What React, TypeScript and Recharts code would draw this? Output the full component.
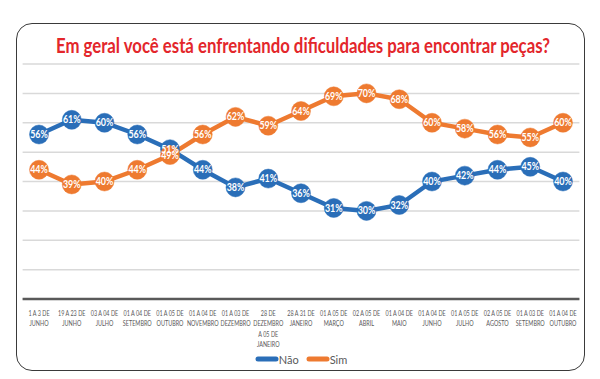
import { CartesianGrid, LabelList, Legend, Line, LineChart, XAxis, YAxis } from 'recharts';

const categories = [
  '1 A 3 DE\nJUNHO',
  '19 A 23 DE\nJUNHO',
  '03 A 04 DE\nJULHO',
  '01 A 04 DE\nSETEMBRO',
  '01 A 05 DE\nOUTUBRO',
  '01 A 04 DE\nNOVEMBRO',
  '01 A 03 DE\nDEZEMBRO',
  '28 DE\nDEZEMBRO\nA 05 DE\nJANEIRO',
  '28 A 31 DE\nJANEIRO',
  '01 A 05 DE\nMARÇO',
  '02 A 05 DE\nABRIL',
  '01 A 04 DE\nMAIO',
  '01 A 04 DE\nJUNHO',
  '01 A 05 DE\nJULHO',
  '02 A 05 DE\nAGOSTO',
  '01 A 03 DE\nSETEMBRO',
  '01 A 04 DE\nOUTUBRO',
];
const naoValues = [56, 61, 60, 56, 51, 44, 38, 41, 36, 31, 30, 32, 40, 42, 44, 45, 40];
const simValues = [44, 39, 40, 44, 49, 56, 62, 59, 64, 69, 70, 68, 60, 58, 56, 55, 60];
const yTicks = [0, 10, 20, 30, 40, 50, 60, 70, 80];

const BLUE = '#2A6EB8';
const ORANGE = '#EE7A30';
const FONT = 'Lato, "Open Sans", sans-serif';

const data = categories.map((c, i) => ({ periodo: c, nao: naoValues[i], sim: simValues[i] }));

function MultiTick({ x, y, payload }: any) {
  const lines = String(payload.value).split('\n');
  return (
    <g transform={`translate(${x},${y}) scale(0.78,1)`}>
      <text x={0} y={0} textAnchor="middle" fill="#595959" fontSize={7} fontFamily={FONT}>
        {lines.map((l, i) => (
          <tspan key={i} x={0} dy={i === 0 ? 9 : 10.3}>
            {l}
          </tspan>
        ))}
      </text>
    </g>
  );
}

function PctLabel({ x, y, width, height, value }: any) {
  const cx = x + (width || 0) / 2;
  const cy = y + (height || 0) / 2;
  return (
    <g transform={`translate(${cx},${cy}) scale(0.85,1)`}>
      <text x={0} y={0} dy={3.6} textAnchor="middle" fill="#fff" fontSize={10.5} fontWeight="bold" fontFamily={FONT}>
        {`${value}%`}
      </text>
    </g>
  );
}

function LegendBox() {
  const items = [
    { name: 'Não', color: BLUE },
    { name: 'Sim', color: ORANGE },
  ];
  return (
    <div style={{ display: 'flex', justifyContent: 'center', height: 20, alignItems: 'center', gap: 7 }}>
      {items.map((it) => (
        <div key={it.name} style={{ display: 'flex', alignItems: 'center' }}>
          <svg width={24} height={10}>
            <line x1={3} y1={5} x2={21} y2={5} stroke={it.color} strokeWidth={5} strokeLinecap="round" />
          </svg>
          <span style={{ fontFamily: FONT, fontSize: 11, color: '#595959' }}>{it.name}</span>
        </div>
      ))}
    </div>
  );
}

export default function App() {
  return (
    <div style={{ position: 'absolute', left: 0, top: 0, width: 600, height: 379, background: '#fff' }}>
      <div
        style={{
          position: 'absolute',
          left: 16,
          top: 23,
          width: 567,
          height: 346,
          border: '1.6px solid #3a3a3a',
          borderRadius: 16,
        }}
      />
      <svg style={{ position: 'absolute', left: 0, top: 0 }} width={600} height={70}>
        <text
          x={303}
          y={53}
          textAnchor="middle"
          textLength={494}
          lengthAdjust="spacingAndGlyphs"
          fontFamily={FONT}
          fontWeight="bold"
          fontSize={20}
          fill="#E3262B"
        >
          Em geral você está enfrentando dificuldades para encontrar peças?
        </text>
      </svg>
      <div style={{ position: 'absolute', left: 0, top: 0 }}>
        <LineChart width={600} height={379} data={data} margin={{ top: 64, right: 20.6, bottom: 10, left: 22.6 }}>
          <CartesianGrid vertical={false} stroke="#D9D9D9" strokeWidth={1.5} />
          <XAxis
            dataKey="periodo"
            interval={0}
            tickLine={false}
            axisLine={{ stroke: '#595959', strokeWidth: 2.5 }}
            padding={{ left: 16.4, right: 16.4 }}
            height={50}
            tick={<MultiTick />}
          />
          <YAxis hide domain={[0, 80]} ticks={yTicks} />
          <Legend verticalAlign="bottom" height={20} content={<LegendBox />} />
          <Line
            dataKey="nao"
            name="Não"
            stroke={BLUE}
            strokeWidth={4.5}
            dot={{ r: 9.5, fill: BLUE, stroke: BLUE, strokeWidth: 0.5 }}
            isAnimationActive={false}
          >
            <LabelList dataKey="nao" content={<PctLabel />} />
          </Line>
          <Line
            dataKey="sim"
            name="Sim"
            stroke={ORANGE}
            strokeWidth={4.5}
            dot={{ r: 9.5, fill: ORANGE, stroke: ORANGE, strokeWidth: 0.5 }}
            isAnimationActive={false}
          >
            <LabelList dataKey="sim" content={<PctLabel />} />
          </Line>
        </LineChart>
      </div>
    </div>
  );
}
